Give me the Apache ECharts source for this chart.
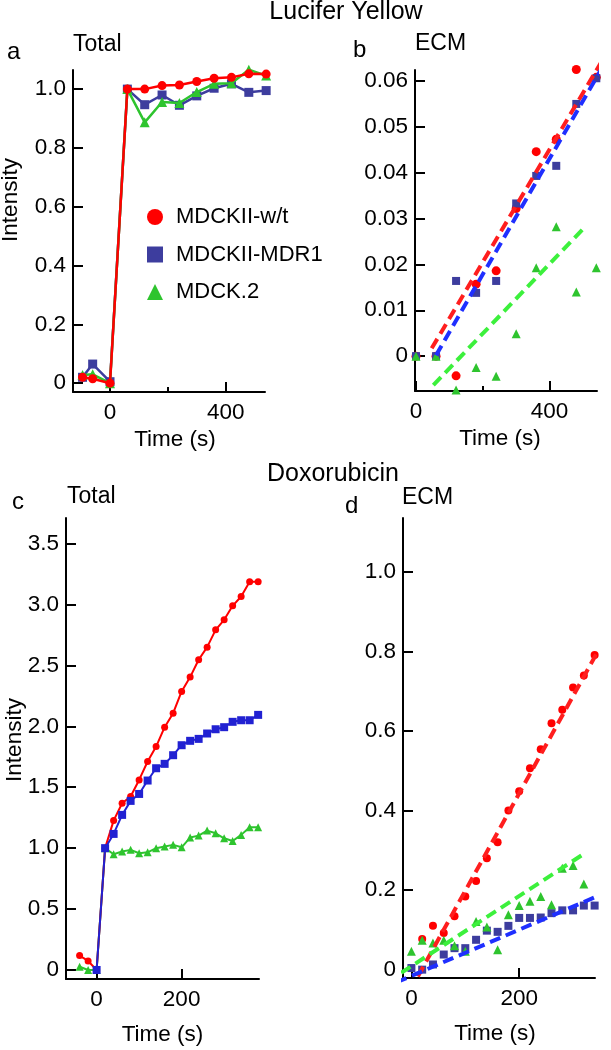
<!DOCTYPE html>
<html><head><meta charset="utf-8">
<script src="https://cdn.jsdelivr.net/npm/echarts@6/dist/echarts.min.js"></script>
<style>html,body{margin:0;padding:0;background:#fff}#c{width:611px;height:1050px}</style>
</head><body><div id="c"></div>
<script>
const FONT = "'Liberation Sans', Arial, Helvetica, sans-serif";
const NAMES = ['MDCKII-w/t', 'MDCKII-MDR1', 'MDCK.2'];

// ---- Panel a: Lucifer Yellow, Total ----
const timeA = [-95, -60, 0, 60, 120, 180, 240, 300, 360, 420, 480, 540];
const aRed = [0.02, 0.015, 0, 1.0, 1.0, 1.012, 1.014, 1.026, 1.037, 1.04, 1.052, 1.051];
const aBlue = [0.02, 0.065, 0.005, 1.0, 0.947, 0.98, 0.945, 0.977, 1.003, 1.018, 0.989, 0.995];
const aGreen = [0.028, 0.03, 0, 1.0, 0.887, 0.956, 0.953, 0.99, 1.018, 1.02, 1.066, 1.046];
const xTicksA = [0, 400];
const xMinorA = [200];
const yTicksA = [0, 0.2, 0.4, 0.6, 0.8, 1.0];

// ---- Panel b: Lucifer Yellow, ECM ----
const timeB = [0, 60, 120, 180, 240, 300, 360, 420, 480, 540];
const bRed = [0, 0, -0.0043, 0.0157, 0.0186, 0.0322, 0.0446, 0.0473, 0.0625, 0.0608];
const bBlue = [0, 0, 0.0164, 0.0138, 0.0164, 0.0333, 0.0393, 0.0415, 0.055, 0.0606];
const bGreen = [0, 0, -0.0074, -0.0025, -0.0044, 0.0049, 0.0193, 0.0282, 0.014, 0.0193];
const bFitRed = [[47, 0.0017], [570, 0.066]];
const bFitBlue = [[60, 0.0002], [578, 0.0655]];
const bFitGreen = [[52, -0.0063], [509, 0.0284]];
const xTicksB = [0, 400];
const xMinorB = [200];
const yTicksB = [0, 0.01, 0.02, 0.03, 0.04, 0.05, 0.06];

// ---- Panel c: Doxorubicin, Total ----
const timeC = [-40, -20, 0, 20, 40, 60, 80, 100, 120, 140, 160, 180, 200, 220, 240, 260, 280, 300, 320, 340, 360, 380];
const cRed = [0.118, 0.074, 0, 1.0, 1.226, 1.369, 1.424, 1.56, 1.711, 1.834, 1.993, 2.108, 2.286, 2.404, 2.546, 2.65, 2.792, 2.874, 2.989, 3.066, 3.186, 3.186];
const cBlue = [null, null, 0, 1.0, 1.117, 1.273, 1.388, 1.445, 1.555, 1.656, 1.692, 1.763, 1.845, 1.881, 1.897, 1.941, 1.976, 1.993, 2.037, 2.05, 2.05, 2.094];
const cGreen = [0.027, 0.0, 0, 1.0, 0.95, 0.972, 0.986, 0.958, 0.966, 1.0, 1.013, 1.027, 1.007, 1.087, 1.103, 1.144, 1.122, 1.081, 1.059, 1.109, 1.172, 1.172];
const xTicksC = [0, 200];
const yTicksC = [0, 0.5, 1.0, 1.5, 2.0, 2.5, 3.0, 3.5];

// ---- Panel d: Doxorubicin, ECM ----
const timeD = [0, 20, 40, 60, 80, 100, 120, 140, 160, 180, 200, 220, 240, 260, 280, 300, 320, 340];
const dRed = [null, 0.077, 0.11, 0.092, 0.134, 0.184, 0.223, 0.28, 0.32, 0.4, 0.448, 0.506, 0.554, 0.619, 0.653, 0.709, 0.739, 0.791];
const dBlue = [0.004, 0, 0.013, 0.038, 0.054, 0.054, 0.075, 0.098, 0.095, 0.11, 0.13, 0.13, 0.131, 0.142, 0.149, 0.149, 0.161, 0.161];
const dGreen = [0.046, 0.074, 0.067, 0.074, 0.06, 0.046, 0.121, 0.107, 0.05, 0.138, 0.161, 0.172, 0.184, 0.163, 0.255, 0.262, 0.215];
const dFitRed = [[12, -0.017], [344, 0.795]];
const dFitGreen = [[-19, -0.008], [319, 0.29]];
const dFitBlue = [[-28, -0.032], [344, 0.184]];
const xTicksD = [0, 200];
const yTicksD = [0, 0.2, 0.4, 0.6, 0.8, 1.0];

const zip = (xs, ys) => xs.map((x, i) => [x, ys[i]]).filter(p => p[1] !== null && p[1] !== undefined);

const C = {
  red: '#ff0000', blueA: '#3d3d9e', blueC: '#2121d2', green: '#2ec42e',
  fitRed: '#ff1e1e', fitBlue: '#1f2fff', fitGreen: '#3cf03c'
};
const FS = 22.5;

function fmt(dec) { return v => (Math.abs(v) < 1e-12 ? '0' : v.toFixed(dec)); }

function xAx(grid, min, max, ticks, gap, pad) {
  return {
    type: 'value', gridIndex: grid, min, max, position: 'bottom',
    name: 'Time (s)', nameLocation: 'middle', nameGap: gap, nameMoveOverlap: false,
    nameTextStyle: { fontSize: FS, color: '#000', fontFamily: FONT, padding: pad || 0 },
    axisLine: { show: true, onZero: false, lineStyle: { color: '#000', width: 2 } },
    axisTick: { show: true, inside: true, length: 10, customValues: ticks, lineStyle: { color: '#000', width: 2 } },
    axisLabel: { customValues: ticks, formatter: fmt(0), fontSize: FS, color: '#000', fontFamily: FONT, margin: 9 },
    splitLine: { show: false }
  };
}
function minorAx(grid, min, max, ticks) {
  return {
    type: 'value', gridIndex: grid, min, max, position: 'bottom',
    axisLine: { show: false, onZero: false },
    axisTick: { show: true, inside: true, length: 5, customValues: ticks, lineStyle: { color: '#000', width: 2 } },
    axisLabel: { show: false },
    splitLine: { show: false }
  };
}
function yAx(grid, min, max, ticks, dec, name, gap, pad) {
  const o = {
    type: 'value', gridIndex: grid, min, max,
    axisLine: { show: true, onZero: false, lineStyle: { color: '#000', width: 2 } },
    axisTick: { show: true, inside: true, length: 10, customValues: ticks, lineStyle: { color: '#000', width: 2 } },
    axisLabel: { customValues: ticks, formatter: fmt(dec), fontSize: FS, color: '#000', fontFamily: FONT, margin: 7 },
    splitLine: { show: false }
  };
  if (name) {
    o.name = name; o.nameLocation = 'middle'; o.nameGap = gap; o.nameMoveOverlap = false;
    o.nameTextStyle = { fontSize: FS, color: '#000', fontFamily: FONT, padding: pad };
  }
  return o;
}

const xAxis = [
  xAx(0, -128, 536, xTicksA, 36, [0, 0, 0, 12]),
  xAx(1, -3, 542, xTicksB, 36, [0, 12, 0, 0]),
  xAx(2, -72, 382, xTicksC, 44),
  xAx(3, -15.6, 340.7, xTicksD, 44, [0, 8, 0, 0]),
  minorAx(0, -128, 536, xMinorA),
  minorAx(1, -3, 542, xMinorB)
];
const yAxis = [
  yAx(0, -0.03, 1.065, yTicksA, 1, 'Intensity', 51, [0, 0, 0, 62]),
  yAx(1, -0.0076, 0.0624, yTicksB, 2),
  yAx(2, -0.074, 3.71, yTicksC, 1, 'Intensity', 40, [0, 0, 0, 17]),
  yAx(3, -0.021, 1.135, yTicksD, 1)
];

function lineS(name, xi, yi, data, color, symbol, size, width, z) {
  return { type: 'line', name, xAxisIndex: xi, yAxisIndex: yi, data, clip: false, z,
    symbol, symbolSize: size, showSymbol: true,
    itemStyle: { color, opacity: 1 }, lineStyle: { color, width }, emphasis: { disabled: true }, animation: false };
}
function scatS(name, xi, yi, data, color, symbol, size, z) {
  return { type: 'scatter', name, xAxisIndex: xi, yAxisIndex: yi, data, clip: false, z,
    symbol, symbolSize: size, itemStyle: { color, opacity: 1 }, emphasis: { disabled: true }, animation: false };
}
function fitS(name, xi, yi, data, color, z) {
  return { type: 'line', name, xAxisIndex: xi, yAxisIndex: yi, data, clip: false, z,
    symbol: 'none', lineStyle: { color, width: 4, type: [11, 6], cap: 'butt' },
    emphasis: { disabled: true }, animation: false };
}

const series = [
  lineS(NAMES[0], 0, 0, zip(timeA, aRed), C.red, 'circle', 9, 2.5, 4),
  lineS(NAMES[1], 0, 0, zip(timeA, aBlue), C.blueA, 'rect', 9, 2.5, 2),
  lineS(NAMES[2], 0, 0, zip(timeA, aGreen), C.green, 'triangle', 10, 2.5, 3),
  { type: 'line', name: '_m1', xAxisIndex: 4, yAxisIndex: 0, data: [], silent: true },
  { type: 'line', name: '_m2', xAxisIndex: 5, yAxisIndex: 1, data: [], silent: true },
  scatS(NAMES[0], 1, 1, zip(timeB, bRed), C.red, 'circle', 9, 2),
  scatS(NAMES[1], 1, 1, zip(timeB, bBlue), C.blueA, 'rect', 8, 3),
  scatS(NAMES[2], 1, 1, zip(timeB, bGreen), C.green, 'triangle', 9, 3),
  fitS('fit-w/t', 1, 1, bFitRed, C.fitRed, 5),
  fitS('fit-MDR1', 1, 1, bFitBlue, C.fitBlue, 5),
  fitS('fit-MDCK.2', 1, 1, bFitGreen, C.fitGreen, 5),
  lineS(NAMES[0], 2, 2, zip(timeC, cRed), C.red, 'circle', 7, 2, 3),
  lineS(NAMES[1], 2, 2, zip(timeC, cBlue), C.blueC, 'rect', 8, 2, 4),
  lineS(NAMES[2], 2, 2, zip(timeC, cGreen), C.green, 'triangle', 8, 2, 2),
  scatS(NAMES[0], 3, 3, zip(timeD, dRed), C.red, 'circle', 8, 2),
  scatS(NAMES[1], 3, 3, zip(timeD, dBlue), C.blueA, 'rect', 8, 2),
  scatS(NAMES[2], 3, 3, zip(timeD, dGreen), C.green, 'triangle', 9, 2),
  fitS('fit-w/t', 3, 3, dFitRed, C.fitRed, 5),
  fitS('fit-MDR1', 3, 3, dFitBlue, C.fitBlue, 5),
  fitS('fit-MDCK.2', 3, 3, dFitGreen, C.fitGreen, 5)
];

function txt(text, x, y, align, size) {
  return { type: 'text', silent: true, style: { text, x, y, textAlign: align, textVerticalAlign: 'middle',
    font: size + 'px ' + FONT, fill: '#000' } };
}

const option = {
  animation: false,
  backgroundColor: '#fff',
  textStyle: { fontFamily: FONT },
  grid: [
    { left: 73, top: 70, width: 192, height: 322, outerBoundsMode: 'none', containLabel: false },
    { left: 415, top: 70, width: 182, height: 321, outerBoundsMode: 'none', containLabel: false },
    { left: 66, top: 518, width: 193, height: 461, outerBoundsMode: 'none', containLabel: false },
    { left: 403, top: 518, width: 192, height: 460, outerBoundsMode: 'none', containLabel: false }
  ],
  xAxis, yAxis, series,
  legend: {
    orient: 'vertical', left: 142, top: 201, itemWidth: 16, itemHeight: 16, itemGap: 15.5,
    selectedMode: false,
    textStyle: { fontSize: 22, color: '#000', fontFamily: FONT, padding: [0, 0, 0, 8] },
    data: [
      { name: NAMES[0], icon: 'circle' },
      { name: NAMES[1], icon: 'rect' },
      { name: NAMES[2], icon: 'triangle' }
    ]
  },
  graphic: [
    txt('Lucifer Yellow', 346, 12, 'center', 25),
    txt('Doxorubicin', 333, 474, 'center', 25),
    txt('a', 7, 52, 'left', 24),
    txt('Total', 73, 45, 'left', 23),
    txt('b', 353, 50, 'left', 24),
    txt('ECM', 415, 44, 'left', 23),
    txt('c', 12, 502, 'left', 24),
    txt('Total', 67, 497, 'left', 23),
    txt('d', 345, 506, 'left', 24),
    txt('ECM', 402, 498, 'left', 23)
  ]
};

const chart = echarts.init(document.getElementById('c'), null, { renderer: 'canvas' });
chart.setOption(option);
</script></body></html>
